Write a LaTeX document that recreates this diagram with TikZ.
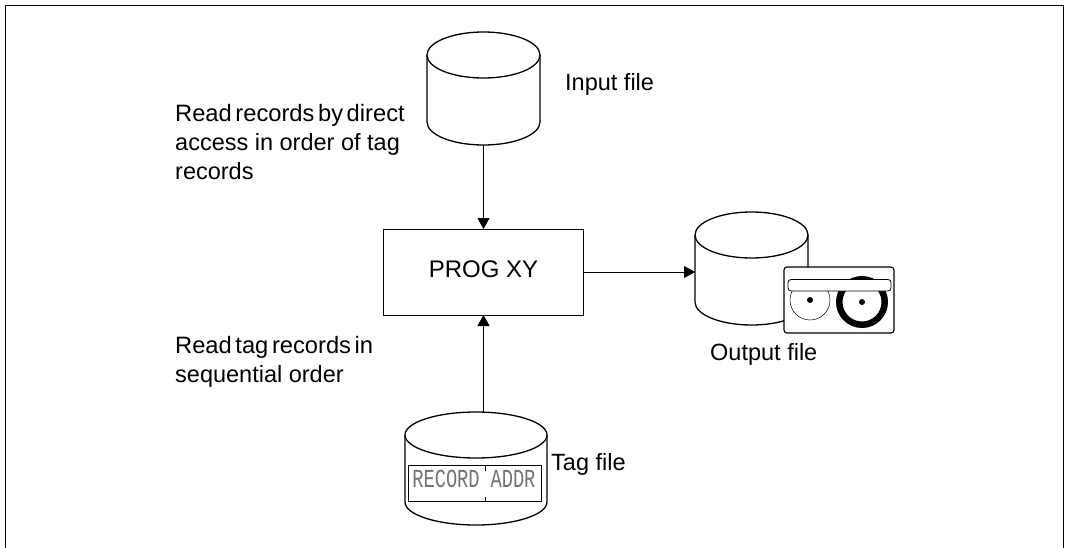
\documentclass[tikz,border=0pt]{standalone}
\usepackage{fontspec}
\setmainfont{Liberation Sans}
\newfontfamily\tightfont[WordSpace=0.55]{Liberation Sans}
\newfontfamily\recfont[FakeStretch=0.72]{Liberation Mono}
\usetikzlibrary{arrows.meta}
\tikzset{
  x=1pt,y=-1pt,
  frameline/.style={line width=1pt,black},
  drumbox/.style={rectangle,inner sep=0pt,outer sep=0pt,minimum width=#1,minimum height=113pt},
  drumline/.style={line width=1.3pt,black,fill=white},
  conn/.style={line width=1pt,-{Triangle[length=11pt,width=12pt]}},
  txt/.style={inner sep=0pt,anchor=base west,font=\fontsize{23.5}{28}\selectfont,align=left},
  tighttxt/.style={txt,font=\tightfont\fontsize{23.7}{28}\selectfont},
  tapeline/.style={line width=1.1pt,black,fill=white},
  rectext/.style={inner sep=0pt,anchor=base,text=black!55,font=\recfont\fontsize{26}{28}\selectfont},
}
\newcommand{\drumshape}[1]{%
  \draw[drumline] (#1.north west)++(0,23) -- ++(0,67)
    arc[start angle=180,end angle=360,x radius=\drumrx,y radius=23pt]
    -- ++(0,-67);
  \draw[drumline] (#1.north west)++(0,23)
    arc[start angle=180,end angle=-180,x radius=\drumrx,y radius=23pt];
}
\begin{document}
\begin{tikzpicture}
\useasboundingbox (0,0) rectangle (1067,548);
\fill[white] (0,0) rectangle (1067,548);
\draw[frameline] (5.5,548) -- (5.5,5.5) -- (1063.5,5.5) -- (1063.5,548);

\node[drumbox=113pt] (input) at (483.5,88.5) {};
\def\drumrx{56.5pt}\drumshape{input}
\node[drumbox=113pt] (output) at (751.5,268.5) {};
\drumshape{output}
\node[drumbox=142pt] (tag) at (476,468.5) {};
\def\drumrx{71pt}\drumshape{tag}

\node[draw,line width=1pt,rectangle,minimum width=200pt,minimum height=86pt,inner sep=0pt,outer sep=0pt,text depth=5pt,font=\fontsize{24}{28}\selectfont] (prog) at (483.5,272) {PROG XY};

\coordinate (tagtop) at (483.5,412.5);
\coordinate (outin) at (695,272);
\draw[conn] (input.south) -- (prog.north);
\draw[conn] (tagtop) -- (prog.south);
\draw[conn] (prog.east) -- (outin);

% tape symbol
\draw[tapeline,rounded corners=3pt] (784,267) rectangle (894,333);
\draw[line width=0.5pt,fill=white] (810,300) circle[radius=20];
\fill (810,300) circle[radius=3];
\draw[line width=6.5pt,fill=white] (862,302) circle[radius=22.75];
\fill (862,302) circle[radius=3];
\draw[line width=0.8pt,fill=white,rounded corners=3pt] (788,279.5) rectangle (891,291);

% record box
\draw[line width=0.8pt,fill=white] (408.5,465) rectangle (541,501);
\draw[line width=0.8pt] (485,465) -- (485,471) (485,497) -- (485,501);
\node[rectext] (rec) at (446,487.5) {RECORD};
\node[rectext] (addr) at (513,487.5) {ADDR};

\node[txt] (linput) at (565,91) {Input file};
\node[txt] (loutput) at (710,360) {Output file};
\node[txt] (ltag) at (551,470) {Tag file};
\node[tighttxt] (lread1) at (175,122) {Read records by direct};
\node[txt] (lread2) at (175,151) {access in order of tag};
\node[txt] (lread3) at (175,179) {records};
\node[tighttxt] (ltr1) at (175,353) {Read tag records in};
\node[txt] (ltr2) at (175,382) {sequential order};
\end{tikzpicture}
\end{document}
